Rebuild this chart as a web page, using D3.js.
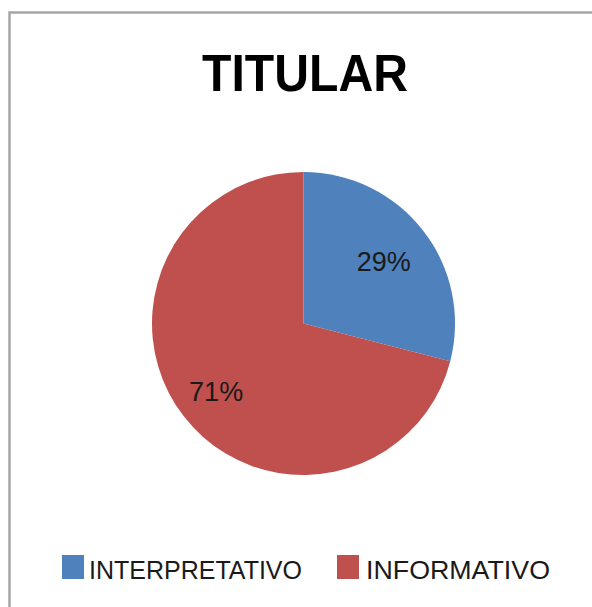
<!DOCTYPE html>
<html>
<head>
<meta charset="utf-8">
<script src="https://cdn.jsdelivr.net/npm/d3@7"></script>
<style>
  html, body { margin: 0; padding: 0; background: #fff; }
  svg { display: block; }
</style>
</head>
<body>
<script>
const categories = ["INTERPRETATIVO", "INFORMATIVO"];
const values = [29, 71];
const labels = ["29%", "71%"];
const colors = ["#4F81BD", "#C0504D"];
const title = "TITULAR";

const W = 592, H = 607;
const svg = d3.select("body").append("svg").attr("width", W).attr("height", H);

svg.append("rect").attr("width", W).attr("height", H).attr("fill", "#fff");
svg.append("path")
  .attr("d", `M9.5,${H} L9.5,12.5 L${W},12.5`)
  .attr("fill", "none").attr("stroke", "#a6a6a6").attr("stroke-width", 2.5);

const font = "'Liberation Sans', Arial, sans-serif";

svg.append("text")
  .attr("x", 305).attr("y", 91)
  .attr("text-anchor", "middle")
  .attr("font-family", font).attr("font-weight", "bold")
  .attr("font-size", 52)
  .attr("textLength", 206).attr("lengthAdjust", "spacingAndGlyphs")
  .attr("fill", "#000")
  .text(title);

const cx = 303.5, cy = 323.5, R = 151.5;
const data = categories.map((c, i) => ({ cat: c, value: values[i], label: labels[i], color: colors[i] }));
const pie = d3.pie().value(d => d.value).sort(null);
const arc = d3.arc().innerRadius(0).outerRadius(R);
const arcs = pie(data);

const g = svg.append("g").attr("transform", `translate(${cx},${cy})`);
g.selectAll("path.slice").data(arcs).enter().append("path")
  .attr("class", "slice")
  .attr("d", arc)
  .attr("fill", d => d.data.color);

const labelRadius = [R * 0.67, R * 0.73];
g.selectAll("text.lbl").data(arcs).enter().append("text")
  .attr("class", "lbl")
  .attr("transform", (d, i) => {
    const la = d3.arc().innerRadius(labelRadius[i]).outerRadius(labelRadius[i]);
    const [x, y] = la.centroid(d);
    return `translate(${x},${y})`;
  })
  .attr("text-anchor", "middle")
  .attr("dy", "0.36em")
  .attr("font-family", font)
  .attr("font-size", 27)
  .attr("fill", "#1a1a1a")
  .text(d => d.data.label);

const legendItems = [
  { x: 62, tx: 89, tl: 213 },
  { x: 337, tx: 366, tl: 184 }
];
const lg = svg.append("g");
data.forEach((d, i) => {
  const li = legendItems[i];
  lg.append("rect")
    .attr("x", li.x).attr("y", 555)
    .attr("width", 22).attr("height", 24)
    .attr("fill", d.color);
  lg.append("text")
    .attr("x", li.tx).attr("y", 579)
    .attr("font-family", font).attr("font-size", 25)
    .attr("textLength", li.tl).attr("lengthAdjust", "spacingAndGlyphs")
    .attr("fill", "#1a1a1a")
    .text(d.cat);
});
</script>
</body>
</html>
